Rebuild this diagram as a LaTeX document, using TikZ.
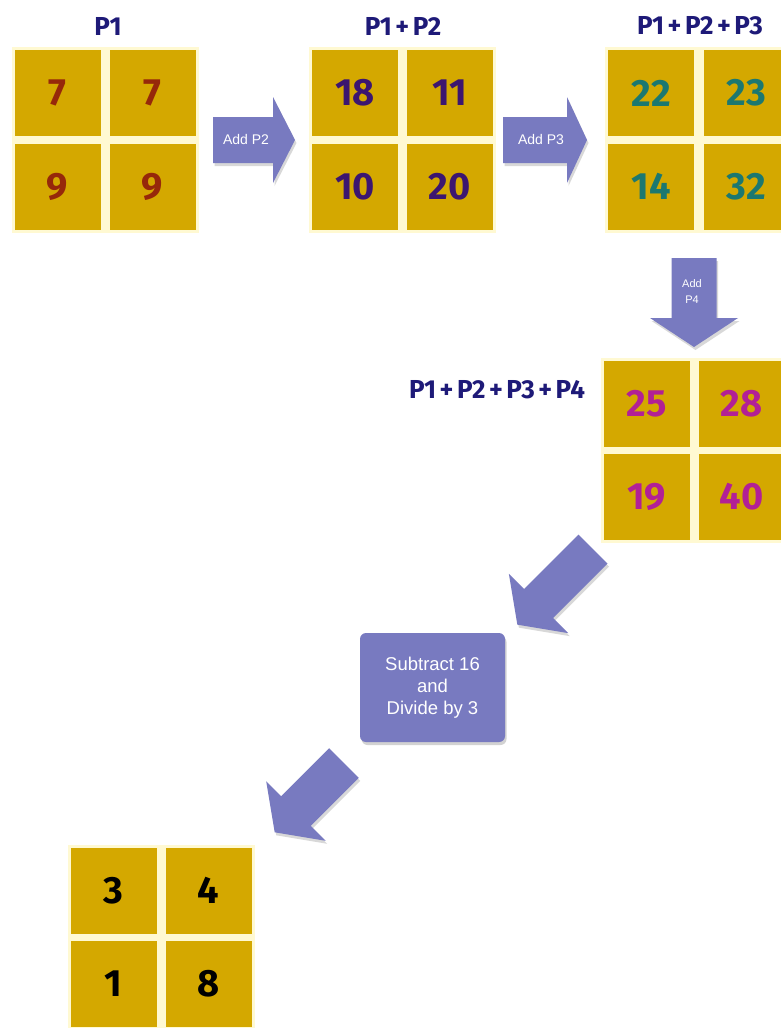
\documentclass[tikz,border=0pt]{standalone}
\usepackage{fontspec}
\setmainfont{Fira Sans}
\newfontfamily\arrowfont{Liberation Sans}
\usetikzlibrary{shadows,backgrounds}
\definecolor{gold}{RGB}{212,168,0}
\definecolor{cellline}{RGB}{255,249,210}
\definecolor{arrowc}{RGB}{120,122,192}
\definecolor{navy}{RGB}{30,26,120}
\definecolor{cA}{RGB}{150,40,10}
\definecolor{cB}{RGB}{60,22,112}
\definecolor{cC}{RGB}{28,120,112}
\definecolor{cD}{RGB}{178,32,150}
\newcommand\blockarrow[6]{%
  \begin{scope}[shift={#1}, rotate=#2, x=1pt, y=1pt]
    \fill[arrowfill] (0,-#4) -- (#3-#6,-#4) -- (#3-#6,-#5) -- (#3,0) -- (#3-#6,#5) -- (#3-#6,#4) -- (0,#4) -- cycle;
  \end{scope}}
\newcommand\pl{\hspace{3.5pt}+\hspace{3.5pt}}
\tikzset{
  cell/.style={minimum width=87pt, minimum height=87pt, inner sep=0pt, fill=gold,
    draw=cellline, line width=1pt, font=\fontsize{38}{38}\selectfont\bfseries},
  lbl/.style={font=\fontsize{26}{26}\selectfont\bfseries, text=navy, inner sep=0pt},
  gridback/.style={fill=cellline},
  arrowfill/.style={fill=arrowc, drop shadow={opacity=0.3, shadow xshift=1.5pt, shadow yshift=-3pt}},
  arrowtext/.style={text=white, font=\arrowfont\fontsize{14}{16}\selectfont, align=center, inner sep=0pt},
  procbox/.style={minimum width=145pt, minimum height=109pt, rounded corners=6pt, fill=arrowc,
    drop shadow={opacity=0.35, shadow xshift=1.5pt, shadow yshift=-3pt},
    text=white, font=\arrowfont\fontsize{18.5}{22}\selectfont, align=center, inner sep=0pt}
}
\begin{document}
\begin{tikzpicture}[x=1pt, y=-1pt]
\useasboundingbox (0,0) rectangle (781,1028);

% labels
\node[lbl] (l1) at (108,26) {P1};
\node[lbl] (l2) at (403,26) {P1\pl P2};
\node[lbl] (l3) at (700,26) {P1\pl P2\pl P3};
\node[lbl] (l4) at (497,390) {P1\pl P2\pl P3\pl P4};

% grid 1
\node[cell, text=cA] (g1a) at (57.5,93) {7};
\node[cell, text=cA] (g1b) at (152.5,93) {7};
\node[cell, text=cA] (g1c) at (57.5,186.5) {9};
\node[cell, text=cA] (g1d) at (152.5,186.5) {9};
% grid 2
\node[cell, text=cB] (g2a) at (355,93) {18};
\node[cell, text=cB] (g2b) at (449.5,93) {11};
\node[cell, text=cB] (g2c) at (355,186.5) {10};
\node[cell, text=cB] (g2d) at (449.5,186.5) {20};
% grid 3
\node[cell, text=cC] (g3a) at (651,93) {22};
\node[cell, text=cC] (g3b) at (746.5,93) {23};
\node[cell, text=cC] (g3c) at (651,186.5) {14};
\node[cell, text=cC] (g3d) at (746.5,186.5) {32};
% grid 4
\node[cell, text=cD] (g4a) at (646.5,403.5) {25};
\node[cell, text=cD] (g4b) at (741.5,403.5) {28};
\node[cell, text=cD] (g4c) at (646.5,496.5) {19};
\node[cell, text=cD] (g4d) at (741.5,496.5) {40};
% grid 5
\node[cell, text=black] (g5a) at (113.5,890.5) {3};
\node[cell, text=black] (g5b) at (208.5,890.5) {4};
\node[cell, text=black] (g5c) at (113.5,983.5) {1};
\node[cell, text=black] (g5d) at (208.5,983.5) {8};

\begin{scope}[on background layer]
  \fill[white] (0,0) rectangle (781,1028);
  \foreach \g in {g1,g2,g3,g4,g5}
    \fill[gridback] ([shift={(-2,-2)}]\g a.north west) rectangle ([shift={(2,2)}]\g d.south east);
\end{scope}

% block arrows
\blockarrow{(213,140)}{0}{82}{23}{43}{22}
\node[arrowtext] (tP2) at (246,139) {Add P2};
\blockarrow{(503,140)}{0}{84}{23}{43}{20}
\node[arrowtext] (tP3) at (541,139) {Add P3};
\blockarrow{(694,258)}{-90}{89}{22.5}{44}{29}
\node[arrowtext, font=\arrowfont\fontsize{11}{16}\selectfont] (tP4) at (692,292) {Add\\P4};
\blockarrow{(593,549)}{225}{107}{20.5}{42}{30}
\blockarrow{(344,763)}{225}{98}{21}{42}{30}

% process box
\node[procbox] (sub) at (432.5,687.5) {Subtract 16\\and\\Divide by 3};
\end{tikzpicture}
\end{document}
